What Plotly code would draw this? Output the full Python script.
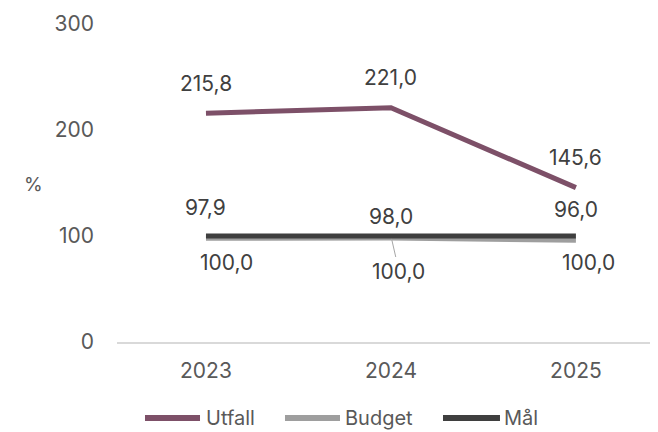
import plotly.graph_objects as go

years = ["2023", "2024", "2025"]
utfall = [215.8, 221.0, 145.6]
budget = [97.9, 98.0, 96.0]
mal = [100.0, 100.0, 100.0]
yticks = [0, 100, 200, 300]
series_names = ["Utfall", "Budget", "Mål"]

def fmt(v):
    return f"{v:.1f}".replace(".", ",")

font = "Inter, Roboto, sans-serif"
colors = ["#7d5068", "#9e9e9e", "#3f3f3f"]
txt = "#404040"
LBL = 21

fig = go.Figure()
for name, vals, col in zip(series_names, [utfall, budget, mal], colors):
    fig.add_trace(go.Scatter(x=years, y=vals, name=name, mode="lines",
                             line=dict(color=col, width=5), showlegend=False))

ann = []
for i, v in enumerate(utfall):
    ann.append(dict(xref="x", yref="y", x=i, y=v, text=fmt(v), showarrow=False, yshift=30,
                    font=dict(size=LBL, color=txt, family=font)))
b_shift = [31, 22, 31]
for i, v in enumerate(budget):
    ann.append(dict(xref="x", yref="y", x=i, y=v, text=fmt(v), showarrow=False,
                    yshift=b_shift[i], font=dict(size=LBL, color=txt, family=font)))
m_xshift = [21, 0, 13]
for i, v in enumerate(mal):
    if i == 1:
        ann.append(dict(xref="x", yref="y", x=i, y=v, text=fmt(v), showarrow=True,
                        arrowhead=0, arrowwidth=1, arrowcolor="#a6a6a6", ax=8, ay=35,
                        standoff=3, font=dict(size=LBL, color=txt, family=font)))
    else:
        ann.append(dict(xref="x", yref="y", x=i, y=v, text=fmt(v), showarrow=False,
                        yshift=-26, xshift=m_xshift[i],
                        font=dict(size=LBL, color=txt, family=font)))
ann.append(dict(xref="paper", yref="paper", x=-0.173, y=0.494, text="%", showarrow=False,
                xanchor="left", yanchor="middle",
                font=dict(size=19, color="#595959", family=font)))

# custom legend (line sample + real text)
leg_y = -0.239
leg_line = [(0.051, 0.1512), (0.306, 0.4062), (0.5938, 0.6976)]
leg_text_x = [0.1585, 0.4117, 0.7013]
shapes = []
for name, col, (x0, x1), tx in zip(series_names, colors, leg_line, leg_text_x):
    shapes.append(dict(type="line", xref="paper", yref="paper", x0=x0, x1=x1,
                       y0=leg_y, y1=leg_y, line=dict(color=col, width=6)))
    ann.append(dict(xref="paper", yref="paper", x=tx, y=leg_y, text=name, showarrow=False,
                    xanchor="left", yanchor="middle",
                    font=dict(size=20, color="#595959", family=font)))

fig.update_layout(
    width=658, height=432,
    margin=dict(l=109, r=0, t=16, b=98, autoexpand=False),
    paper_bgcolor="white", plot_bgcolor="white",
    font=dict(family=font, size=19, color="#595959"),
    showlegend=False,
    annotations=ann,
    shapes=shapes,
    xaxis=dict(type="category", range=[-0.481, 2.487], showgrid=False, showline=True,
               linecolor="#d9d9d9", linewidth=2, ticks="", ticklabelstandoff=9,
               automargin=False, tickfont=dict(size=21, color="#595959")),
    yaxis=dict(range=[0, 300], tickvals=yticks, showgrid=False, zeroline=False,
               showline=False, ticklabelstandoff=22, automargin=False,
               tickfont=dict(size=21, color="#595959")),
)
fig.write_html("out.html")
